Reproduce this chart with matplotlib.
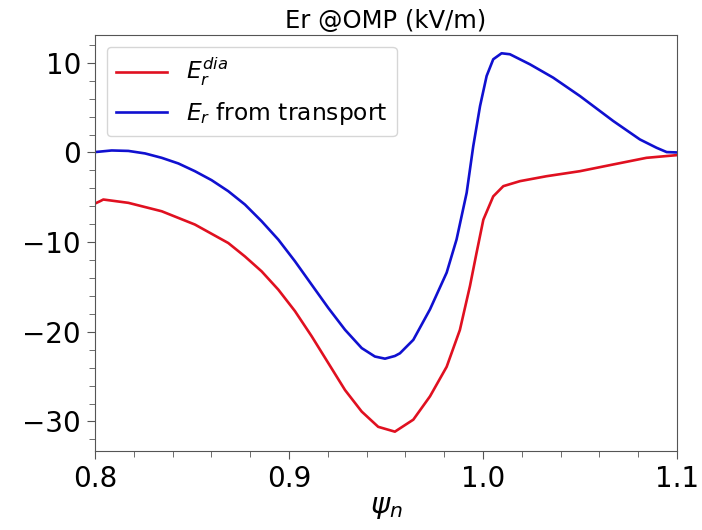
import numpy as np
import matplotlib
matplotlib.use("Agg")
import matplotlib.pyplot as plt
from matplotlib.ticker import MultipleLocator

# E_r from transport (blue)
psi_tr = [0.8000, 0.8086, 0.8172, 0.8258, 0.8344, 0.8430, 0.8515, 0.8601, 0.8687, 0.8773,
          0.8859, 0.8945, 0.9031, 0.9117, 0.9203, 0.9289, 0.9375, 0.9443, 0.9495, 0.9546,
          0.9572, 0.9641, 0.9727, 0.9813, 0.9864, 0.9916, 0.9950, 0.9985, 1.0019, 1.0053,
          1.0096, 1.0139, 1.0242, 1.0362, 1.0500, 1.0672, 1.0809, 1.0895, 1.0947, 1.1000]
er_tr = [0.04, 0.22, 0.17, -0.11, -0.60, -1.23, -2.09, -3.09, -4.32, -5.81,
         -7.67, -9.72, -12.14, -14.75, -17.35, -19.78, -21.82, -22.76, -23.00, -22.70,
         -22.40, -20.90, -17.50, -13.40, -9.70, -4.50, 0.70, 5.17, 8.53, 10.39,
         11.06, 10.95, 9.83, 8.34, 6.29, 3.50, 1.45, 0.52, 0.04, 0.00]

# E_r diamagnetic (red)
psi_dia = [0.8000, 0.8026, 0.8043, 0.8172, 0.8344, 0.8515, 0.8687, 0.8773, 0.8859, 0.8945,
           0.9031, 0.9117, 0.9203, 0.9289, 0.9375, 0.9460, 0.9546, 0.9641, 0.9727, 0.9813,
           0.9881, 0.9933, 0.9967, 1.0002, 1.0053, 1.0105, 1.0191, 1.0328, 1.0500, 1.0672,
           1.0843, 1.1000]
er_dia = [-5.70, -5.44, -5.25, -5.62, -6.56, -8.04, -10.10, -11.60, -13.26, -15.30,
          -17.70, -20.50, -23.50, -26.50, -28.90, -30.60, -31.14, -29.80, -27.20, -23.90,
          -19.80, -14.90, -11.20, -7.50, -4.90, -3.76, -3.20, -2.65, -2.09, -1.34,
          -0.60, -0.30]

fig = plt.figure(figsize=(7.02, 5.30), dpi=100)
ax = fig.add_axes([0.1353, 0.149, 0.829, 0.785])

ax.plot(psi_dia, er_dia, color="#e01020", lw=1.9, solid_joinstyle="round",
        label=r"$E_r^{dia}$")
ax.plot(psi_tr, er_tr, color="#1010d0", lw=1.9, solid_joinstyle="round",
        label=r"$E_r$ from transport")

ax.set_xlim(0.8, 1.1)
ax.set_ylim(-33.3, 13.1)
ax.set_xticks([0.8, 0.9, 1.0, 1.1])
ax.set_yticks([-30, -20, -10, 0, 10])
ax.xaxis.set_minor_locator(MultipleLocator(0.02))
ax.yaxis.set_minor_locator(MultipleLocator(2))
ax.tick_params(which="both", direction="out", color="#555555", labelsize=20)
ax.tick_params(which="major", length=6, pad=4)
ax.tick_params(which="minor", length=4)
for s in ax.spines.values():
    s.set_color("#555555")

ax.set_title("Er @OMP (kV/m)", fontsize=17.5, pad=5)
ax.set_xlabel(r"$\psi_n$", fontsize=21, labelpad=0)
ax.legend(loc="upper left", fontsize=16.8, handlelength=2.2, borderaxespad=0.5)

fig.savefig("out.png", dpi=100)
